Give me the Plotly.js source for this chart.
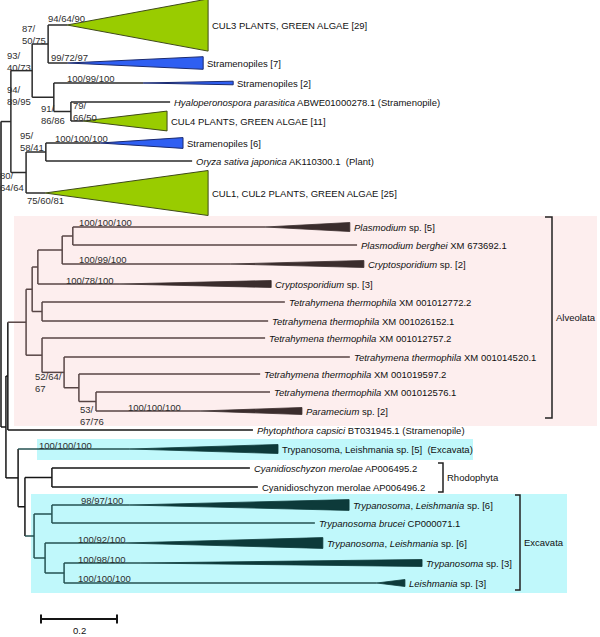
<!DOCTYPE html>
<html><head><meta charset="utf-8">
<script src="https://cdn.plot.ly/plotly-3.0.1.min.js"></script>
<style>html,body{margin:0;padding:0;background:#fff}#chart{width:600px;height:637px}</style>
</head><body><div id="chart"></div>
<script>
// ================= DATA =================
// Tree nodes (parent, depth from root in substitutions/site)
const nodeIds = ['root','A','B','C','CUL3','STR7','D','STR2','E','HYA','CUL4','F','G','STR6','ORY','CUL12',
  'R2','Q','P5','P4','P3','P2','P1','PLA5','PBE','CRY2','CRY3','T1','T772','T152','T3','T757','T4','T520','T5','T597','T6','T576','PAR2','PHY',
  'S','TRY5','S2','RHO','CM495','CM496','X','X1','TL6A','TBR','X2','TL6B','X3','TRY3','LEI3'];
const nodeParents = [null,'root','A','B','C','C','B','D','D','E','E','A','F','G','G','F',
  'root','R2','Q','P5','P4','P3','P2','P1','P1','P2','P3','P4','T1','T1','P5','T3','T3','T4','T4','T5','T5','T6','T6','Q',
  'R2','S','S','S2','RHO','RHO','S2','X','X1','X1','X','X2','X2','X3','X3'];
// depth of node (for collapsed clades: depth of the longest member)
const nodeDepths = [0,0.026,0.082,0.124,0.545,0.532,0.139,0.611,0.184,0.445,0.437,0.066,0.118,0.479,0.503,0.545,
  0.013,0.018,0.066,0.082,0.097,0.161,0.189,0.918,0.937,0.955,0.711,0.108,0.747,0.703,0.108,0.695,0.166,0.918,0.205,0.682,0.250,0.708,0.792,0.663,
  0.045,0.729,0.063,0.134,0.655,0.676,0.087,0.134,0.916,0.826,0.116,0.847,0.166,1.108,1.063];
// depth of the MRCA of a collapsed clade (null = single sequence / internal node)
const cladeApexDepths = [null,null,null,null,0.174,0.176,null,0.374,null,null,0.216,null,null,0.261,null,0.116,
  null,null,null,null,null,null,null,0.695,null,0.603,0.313,null,null,null,null,null,null,null,null,null,null,null,0.524,null,
  null,0.339,null,null,null,null,null,null,0.339,null,null,0.326,null,0.366,0.989];
// number of sequences in collapsed clades
const cladeCounts = [0,0,0,0,29,7,0,2,0,1,11,0,0,6,1,25,
  0,0,0,0,0,0,0,5,1,2,3,0,1,1,0,1,0,1,0,1,0,1,2,1,
  0,5,0,0,1,1,0,0,6,1,0,6,0,3,3];
// vertical slot of each tip (rows, top to bottom); internal nodes are placed between their children
const leafRows = {CUL3:25,STR7:63,STR2:83,HYA:102,CUL4:121,STR6:143,ORY:161,CUL12:193,
  PLA5:227,PBE:245,CRY2:264,CRY3:284,T772:302,T152:321,T757:338,T520:357,T597:374,T576:392,PAR2:411,
  PHY:430,TRY5:449,CM495:468,CM496:487,TL6A:505,TBR:523,TL6B:543,TRY3:563,LEI3:583};
const leafLabels = {
  CUL3:'CUL3 PLANTS, GREEN ALGAE [29]',
  STR7:'Stramenopiles [7]',
  STR2:'Stramenopiles [2]',
  HYA:'<i>Hyaloperonospora parasitica</i> ABWE01000278.1 (Stramenopile)',
  CUL4:'CUL4 PLANTS, GREEN ALGAE [11]',
  STR6:'Stramenopiles [6]',
  ORY:'<i>Oryza sativa japonica</i> AK110300.1\u00a0\u00a0(Plant)',
  CUL12:'CUL1, CUL2 PLANTS, GREEN ALGAE [25]',
  PLA5:'<i>Plasmodium</i> sp. [5]',
  PBE:'<i>Plasmodium berghei</i> XM 673692.1',
  CRY2:'<i>Cryptosporidium</i> sp. [2]',
  CRY3:'<i>Cryptosporidium</i> sp. [3]',
  T772:'<i>Tetrahymena thermophila</i> XM 001012772.2',
  T152:'<i>Tetrahymena thermophila</i> XM 001026152.1',
  T757:'<i>Tetrahymena thermophila</i> XM 001012757.2',
  T520:'<i>Tetrahymena thermophila</i> XM 001014520.1',
  T597:'<i>Tetrahymena thermophila</i> XM 001019597.2',
  T576:'<i>Tetrahymena thermophila</i> XM 001012576.1',
  PAR2:'<i>Paramecium</i> sp. [2]',
  PHY:'<i>Phytophthora capsici</i> BT031945.1 (Stramenopile)',
  TRY5:'Trypanosoma, Leishmania sp. [5]\u00a0\u00a0(Excavata)',
  CM495:'<i>Cyanidioschyzon merolae</i> AP006495.2',
  CM496:'Cyanidioschyzon merolae AP006496.2',
  TL6A:'<i>Trypanosoma</i>, <i>Leishmania</i> sp. [6]',
  TBR:'<i>Trypanosoma brucei</i> CP000071.1',
  TL6B:'<i>Trypanosoma</i>, <i>Leishmania</i> sp. [6]',
  TRY3:'<i>Trypanosoma</i> sp. [3]',
  LEI3:'<i>Leishmania</i> sp. [3]'
};
// taxonomic group of each node
const nodeGroups = ['base','top','top','top','plant','stram','top','stram','top','top','plant','top','top','stram','top','plant',
  'base','base','alv','alv','alv','alv','alv','alv','alv','alv','alv','alv','alv','alv','alv','alv','alv','alv','alv','alv','alv','alv','alv','base',
  'base','exc','base','base','base','base','exc','exc','exc','exc','exc','exc','exc','exc','exc'];
// bootstrap / support values
const supportNodes = ['CUL3','STR7','C','B','D','STR2','E','CUL4','G','STR6','F','CUL12',
  'PLA5','CRY2','CRY3','T4','T6','PAR2','TRY5','TL6A','TL6B','TRY3','LEI3'];
const supportValues = ['94/64/90','99/72/97','87/50/75','93/40/73','94/89/95','100/99/100','91/86/86','79/66/50','95/58/41','100/100/100','80/64/64','75/60/81',
  '100/100/100','100/99/100','100/78/100','52/64/67','53/67/76','100/100/100','100/100/100','98/97/100','100/92/100','100/98/100','100/100/100'];
// bracketed groups
const bracketNames = ['Alveolata','Rhodophyta','Excavata'];
const bracketFirst = ['PLA5','CM495','TL6A'];
const bracketLast = ['PAR2','CM496','LEI3'];
const scaleBarLength = 0.2;
const scaleBarLabel = '0.2';

// ================= STYLE / LAYOUT =================
const W = 600, H = 637, PXU = 380, X0PX = 1;
const px = p => (p - X0PX) / PXU;       // pixel offset -> depth units
const dpx = p => p / PXU;
const FONT = 'Liberation Sans, Arial, sans-serif';
const lineColors = {base:'#151515', top:'#2a2a2a', plant:'#2a2a2a', stram:'#2a2a2a', alv:'#574545', exc:'#245252'};
const fillColors = {plant:'#99cc00', stram:'#2f5ff2', alv:'#3b2d2d', exc:'#0d3a3a'};
const edgeColors = {plant:'#3f4a1a', stram:'#1a2a70', alv:'#3b2d2d', exc:'#0d3a3a'};
const halfPerSeq = 0.9;
const minHalf = {plant:1.5, stram:1.5, alv:3.5, exc:3.5};
const supportPlacement = {
  CUL3:{ref:'parent',dx:-1,dy:-6.5,a:'left'},
  STR7:{ref:'parent',dx:2,dy:-6,a:'left'},
  C:{ref:'self',dx:-1,dy:-9.5,a:'right',wrap:1},
  B:{ref:'self',dx:0,dy:-9.6,a:'right',wrap:1},
  D:{ref:'parent',dx:0,dy:-1.8,a:'right',wrap:1},
  STR2:{ref:'parent',dx:12,dy:-4.5,a:'left'},
  E:{ref:'parent',dx:-14,dy:2.5,a:'left',wrap:1},
  CUL4:{ref:'parent',dx:1,dy:-9.5,a:'left',wrap:1},
  G:{ref:'self',dx:-1,dy:-10.5,a:'right',wrap:1},
  STR6:{ref:'parent',dx:8,dy:-4.5,a:'left'},
  F:{ref:'self',dx:-1,dy:9,a:'right',wrap:1},
  CUL12:{ref:'parent',dx:0,dy:7.5,a:'left'},
  PLA5:{ref:'parent',dx:5,dy:-5,a:'left'},
  CRY2:{ref:'parent',dx:16,dy:-4.5,a:'left'},
  CRY3:{ref:'parent',dx:27,dy:-4,a:'left'},
  T4:{ref:'self',dx:-1,dy:10.6,a:'right',wrap:2},
  T6:{ref:'parent',dx:0,dy:13.5,a:'left',wrap:1},
  PAR2:{ref:'parent',dx:31,dy:-4,a:'left'},
  TRY5:{ref:'parent',dx:20,dy:-4,a:'left'},
  TL6A:{ref:'parent',dx:28,dy:-4.5,a:'left'},
  TL6B:{ref:'parent',dx:32,dy:-4,a:'left'},
  TRY3:{ref:'parent',dx:13,dy:-4,a:'left'},
  LEI3:{ref:'parent',dx:13,dy:-5,a:'left'}
};
const bracketStyle = [
  {xpx:552, padTop:10, padBot:7, tick:7},
  {xpx:443, padTop:5, padBot:5, tick:5},
  {xpx:520, padTop:10, padBot:7, tick:5}
];
const boxes = [
  {x0:14, x1:597, y0:216, y1:426, color:'#fdeeee'},
  {x0:37, x1:473, y0:439, y1:460, color:'#c0f8fb'},
  {x0:31, x1:567, y0:494, y1:593, color:'#c0f8fb'}
];
const scaleBar = {xpx:41, y:619, tick:4.5, labelY:630};

// ================= BUILD =================
const idx = {}; nodeIds.forEach((id,i)=>idx[id]=i);
const children = nodeIds.map(()=>[]);
nodeParents.forEach((p,i)=>{ if(p) children[idx[p]].push(i); });
const ypos = new Array(nodeIds.length);
function layY(i){
  const id = nodeIds[i];
  if (leafRows[id] !== undefined) return (ypos[i] = leafRows[id]);
  const ys = children[i].map(layY);
  return (ypos[i] = (Math.min(...ys) + Math.max(...ys)) / 2);
}
layY(idx.root);

const segs = {};
function addSeg(g, x0, y0, x1, y1){
  const key = lineColors[g];
  if(!segs[key]) segs[key] = {x:[], y:[]};
  segs[key].x.push(x0, x1, null); segs[key].y.push(y0, y1, null);
}
nodeIds.forEach((id,i)=>{
  const g = nodeGroups[i];
  if (nodeParents[i]) {
    const p = idx[nodeParents[i]];
    const end = cladeApexDepths[i] !== null ? cladeApexDepths[i] : nodeDepths[i];
    addSeg(g, nodeDepths[p], ypos[i], end, ypos[i]);
  }
  if (children[i].length) {
    const ys = children[i].map(c=>ypos[c]);
    addSeg(g, nodeDepths[i], Math.min(...ys), nodeDepths[i], Math.max(...ys));
  }
});

const traces = [];
Object.keys(segs).forEach(col=>{
  traces.push({type:'scatter', mode:'lines', x:segs[col].x, y:segs[col].y,
    line:{color:col, width:1.5}, hoverinfo:'skip', showlegend:false, connectgaps:false});
});
// collapsed clades as triangles
nodeIds.forEach((id,i)=>{
  if (cladeApexDepths[i] === null) return;
  const g = nodeGroups[i];
  const h = Math.max(halfPerSeq * cladeCounts[i], minHalf[g]);
  const y = ypos[i];
  traces.push({type:'scatter', mode:'lines', fill:'toself',
    x:[cladeApexDepths[i], nodeDepths[i], nodeDepths[i], cladeApexDepths[i]],
    y:[y, y-h, y+h, y], fillcolor:fillColors[g],
    line:{color:edgeColors[g], width:(g==='plant'||g==='stram')?1:0.8},
    hoverinfo:'skip', showlegend:false});
});
// scale bar
const sb0 = px(scaleBar.xpx), sb1 = sb0 + scaleBarLength;
traces.push({type:'scatter', mode:'lines',
  x:[sb0, sb1, null, sb0, sb0, null, sb1, sb1],
  y:[scaleBar.y, scaleBar.y, null, scaleBar.y-scaleBar.tick, scaleBar.y+scaleBar.tick, null, scaleBar.y-scaleBar.tick, scaleBar.y+scaleBar.tick],
  line:{color:'#151515', width:2}, hoverinfo:'skip', showlegend:false});

const annotations = [];
// leaf labels
nodeIds.forEach((id,i)=>{
  if (leafLabels[id] === undefined) return;
  annotations.push({x:nodeDepths[i] + dpx(3), y:ypos[i], xref:'x', yref:'y', text:leafLabels[id],
    showarrow:false, xanchor:'left', yanchor:'middle', borderpad:0,
    font:{family:FONT, size:9.5, color:'#111111'}});
});
// support labels
supportNodes.forEach((id,k)=>{
  const i = idx[id], pl = supportPlacement[id];
  const refX = pl.ref === 'parent' ? nodeDepths[idx[nodeParents[i]]] : nodeDepths[i];
  let txt = supportValues[k];
  if (pl.wrap) { const parts = txt.split('/'); txt = parts.slice(0,pl.wrap).join('/') + '/<br>' + parts.slice(pl.wrap).join('/'); }
  annotations.push({x:refX + dpx(pl.dx), y:ypos[i] + pl.dy, xref:'x', yref:'y', text:txt,
    showarrow:false, xanchor:pl.a, yanchor:'middle', align:'left', borderpad:0,
    font:{family:FONT, size:9.5, color:'#2e2e2e'}});
});
// background boxes and brackets
const shapes = [];
boxes.forEach(b=>shapes.push({type:'rect', xref:'x', yref:'y', layer:'below',
  x0:px(b.x0), x1:px(b.x1), y0:b.y0, y1:b.y1, fillcolor:b.color, line:{width:0}}));
bracketNames.forEach((name,k)=>{
  const st = bracketStyle[k];
  const yt = ypos[idx[bracketFirst[k]]] - st.padTop, yb = ypos[idx[bracketLast[k]]] + st.padBot;
  const bx = px(st.xpx), tx = px(st.xpx - st.tick);
  shapes.push({type:'path', xref:'x', yref:'y',
    path:`M ${tx} ${yt} L ${bx} ${yt} L ${bx} ${yb} L ${tx} ${yb}`,
    line:{color:'#222222', width:1.5}});
  annotations.push({x:bx + dpx(3), y:(yt+yb)/2, xref:'x', yref:'y', text:name, showarrow:false,
    xanchor:'left', yanchor:'middle', borderpad:0, font:{family:FONT, size:9.5, color:'#111111'}});
});
annotations.push({x:(sb0+sb1)/2, y:scaleBar.labelY, xref:'x', yref:'y', text:scaleBarLabel, showarrow:false,
  xanchor:'center', yanchor:'middle', borderpad:0, font:{family:FONT, size:9.5, color:'#111111'}});

const layout = {
  width:W, height:H, margin:{l:0,r:0,t:0,b:0}, paper_bgcolor:'#ffffff', plot_bgcolor:'#ffffff',
  xaxis:{range:[px(0), px(W)], visible:false, fixedrange:true},
  yaxis:{range:[H, 0], visible:false, fixedrange:true},
  showlegend:false, shapes:shapes, annotations:annotations, hovermode:false
};
Plotly.newPlot('chart', traces, layout, {staticPlot:true, displayModeBar:false});
</script></body></html>
